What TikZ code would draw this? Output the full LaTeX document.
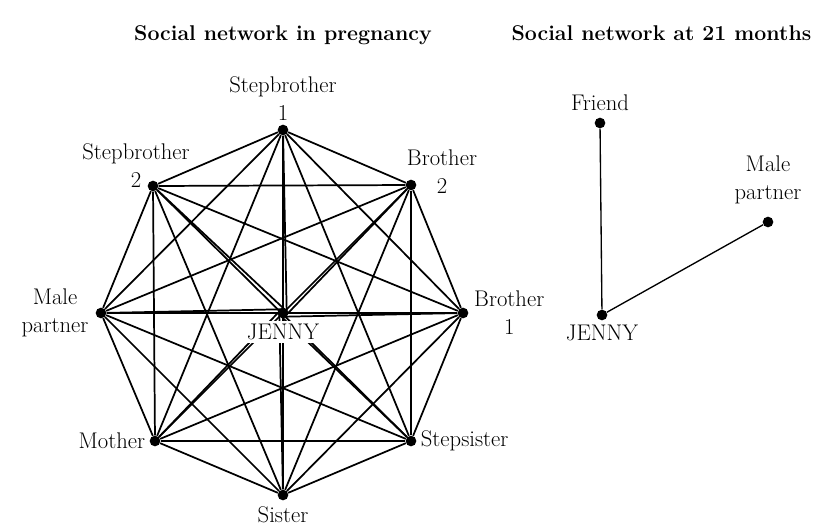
\documentclass[tikz,border=0pt]{standalone}
\usetikzlibrary{positioning, calc}
\begin{document}
\begin{tikzpicture}[
    x=0.75pt, y=-0.75pt,
    every node/.style={font=\fontsize{17}{21}\selectfont},
    dot/.style={circle, fill, inner sep=0pt, minimum size=8pt},
    lbl/.style={align=center, inner sep=1pt},
    title/.style={font=\fontsize{16}{18}\selectfont\bfseries, anchor=base},
    link/.style={line width=1.3pt},
    tie/.style={line width=1pt}
]
    \useasboundingbox (0,0) rectangle (818,529);

    % titles
    \node[title] (leftTitle) at (283,40) {Social network in pregnancy};
    \node[title, anchor=base east] (rightTitle) at (816,40) {Social network at 21 months};

    % network in pregnancy
    \node[dot] (jenny)   at (283,313) {};
    \node[dot] (sbOne)   at (283,130) {};
    \node[dot] (brTwo)   at (411,185) {};
    \node[dot] (brOne)   at (463,313) {};
    \node[dot] (stepsis) at (411,441) {};
    \node[dot] (sister)  at (283,495) {};
    \node[dot] (mother)  at (155,441) {};
    \node[dot] (male)    at (101,313) {};
    \node[dot] (sbTwo)   at (153,186) {};

    % everyone knows everyone
    \foreach \a [count=\i] in {sbOne,brTwo,brOne,stepsis,sister,mother,male,sbTwo}
        \foreach \b [count=\j] in {sbOne,brTwo,brOne,stepsis,sister,mother,male,sbTwo}
            {\ifnum\j>\i \draw[link] (\a) -- (\b); \fi}
    \foreach \b in {sbOne,brTwo,brOne,stepsis,sister,mother,male,sbTwo}
        \draw[link] ($(jenny)!2.8pt!-90:(\b)$) -- (\b);

    \node[lbl, above=2pt of sbOne] (sbOneLbl) {Stepbrother\\1};
    \node[lbl] (sbTwoLbl) at (136,166) {Stepbrother\\2};
    \node[lbl] (brTwoLbl) at (442,172) {Brother\\2};
    \node[lbl, right=3pt of brOne] (brOneLbl) {Brother\\1};
    \node[lbl, right=2pt of stepsis] (stepsisLbl) {Stepsister};
    \node[lbl, below=3pt of sister] (sisterLbl) {Sister};
    \node[lbl, left=2pt of mother] (motherLbl) {Mother};
    \node[lbl, left=4pt of male] (maleLbl) {Male\\partner};
    \node[lbl, fill=white, inner sep=2.5pt, below=1.5pt of jenny] (jennyLbl) {JENNY};

    % network at 21 months
    \node[dot] (friend) at (600,123) {};
    \node[dot] (jennyR) at (602,315) {};
    \node[dot] (maleR)  at (768,222) {};
    \draw[tie] (jennyR) -- (friend);
    \draw[tie] (jennyR) -- (maleR);
    \node[lbl, above=4pt of friend] (friendLbl) {Friend};
    \node[lbl, above=8pt of maleR] (maleRLbl) {Male\\partner};
    \node[lbl, below=2pt of jennyR] (jennyRLbl) {JENNY};
\end{tikzpicture}
\end{document}
